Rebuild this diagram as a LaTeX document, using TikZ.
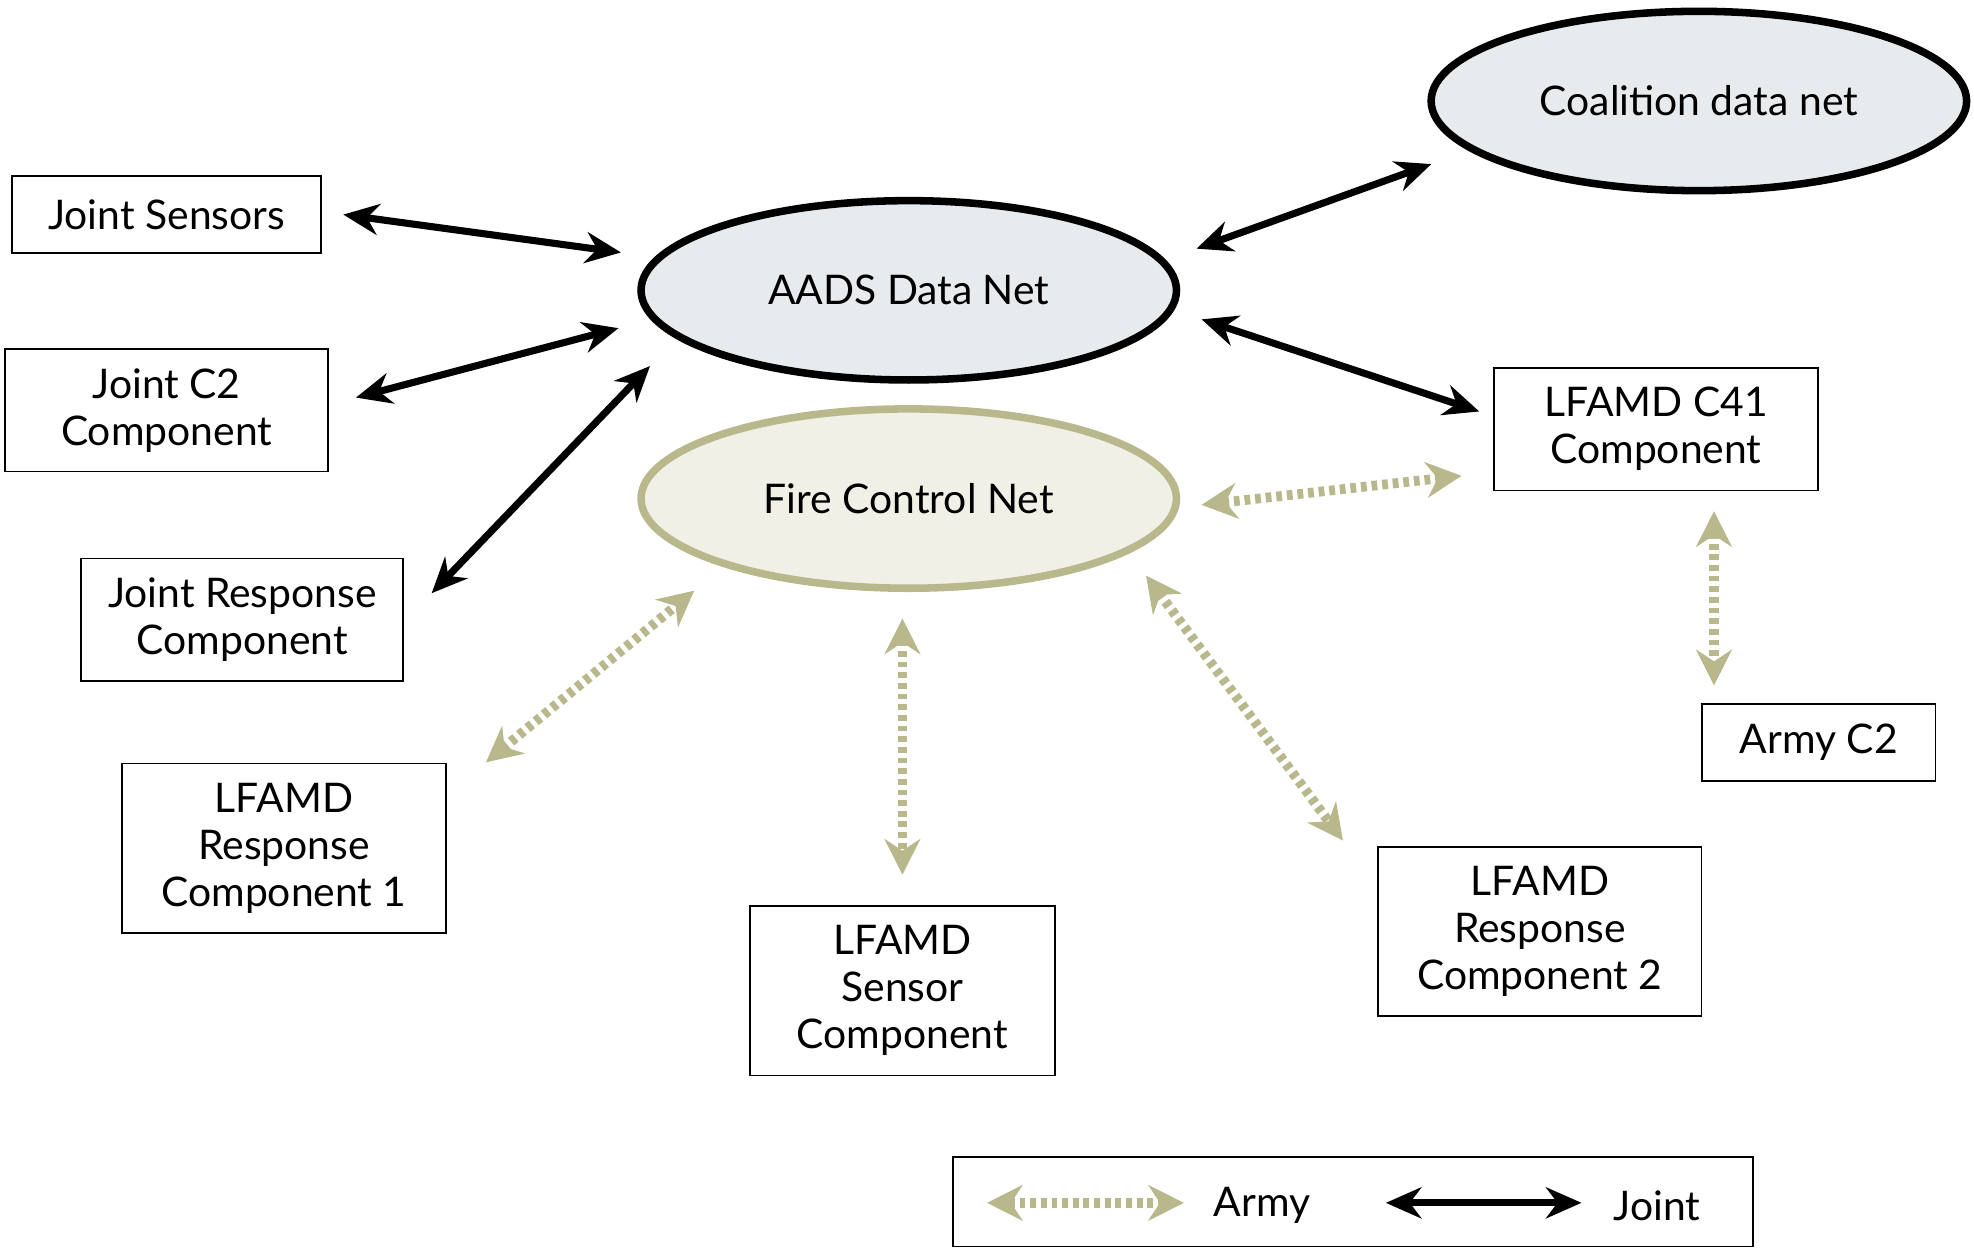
\documentclass[tikz,border=0pt]{standalone}
\usepackage{fontspec}
\setmainfont{Lato}
\usetikzlibrary{arrows.meta,shapes.geometric}
\definecolor{olv}{RGB}{184,184,140}
\definecolor{olvfill}{RGB}{240,240,230}
\definecolor{netfill}{RGB}{232,235,238}
\begin{document}
\begin{tikzpicture}[x=0.01cm,y=-0.01cm,
  box/.style={draw,line width=0.4pt,align=center,font=\fontsize{9.2}{10.6}\selectfont,inner sep=0pt},
  net/.style={ellipse,draw,line width=1.7pt,fill=netfill,font=\fontsize{9.2}{10.6}\selectfont},
  joint/.style={line width=1.6pt,{Stealth[length=8pt,width=7pt]}-{Stealth[length=8pt,width=7pt]}},
  army/.style={olv,line width=2.2pt,dash pattern=on 1.3pt off 1.1pt,{Stealth[length=8pt,width=8pt,fill=olv]}-{Stealth[length=8pt,width=8pt,fill=olv]}}]
\useasboundingbox (0,0) rectangle (1564,990);
\tikzset{netsz/.style={minimum width=4.24cm,minimum height=1.42cm}}
\node[net,netsz] (coal) at (1346,80) {Coalition data net};
\node[net,netsz] (aads) at (720,230) {AADS Data Net};
\node[net,netsz,draw=olv,fill=olvfill] (fc) at (720,395) {Fire Control Net};
\node[box,minimum width=2.45cm,minimum height=0.61cm] (js) at (132,170) {Joint Sensors};
\node[box,minimum width=2.56cm,minimum height=0.97cm] (jc2) at (132,325) {Joint C2\\Component};
\node[box,minimum width=2.55cm,minimum height=0.97cm] (jr) at (192,491) {Joint Response\\Component};
\node[box,minimum width=2.57cm,minimum height=1.34cm] (r1) at (225,672) {LFAMD\\Response\\Component 1};
\node[box,minimum width=2.42cm,minimum height=1.34cm] (sen) at (715,785) {LFAMD\\Sensor\\Component};
\node[box,minimum width=2.56cm,minimum height=1.34cm] (r2) at (1220,738) {LFAMD\\Response\\Component 2};
\node[box,minimum width=1.85cm,minimum height=0.61cm] (ac2) at (1441,588) {Army C2};
\node[box,minimum width=2.57cm,minimum height=0.97cm] (c41) at (1312,340) {LFAMD C41\\Component};
\node[box,minimum width=6.33cm,minimum height=0.71cm] (leg) at (1072,952) {};
\coordinate (a1) at (272,170); \coordinate (b1) at (492,200);
\coordinate (a2) at (282,315); \coordinate (b2) at (490,260);
\coordinate (a3) at (342,470); \coordinate (b3) at (515,290);
\coordinate (a4) at (948,197); \coordinate (b4) at (1134,130);
\coordinate (a5) at (952,253); \coordinate (b5) at (1172,326);
\coordinate (a6) at (952,400); \coordinate (b6) at (1158,377);
\coordinate (a7) at (1358,405); \coordinate (b7) at (1358,543);
\coordinate (a8) at (385,604); \coordinate (b8) at (550,468);
\coordinate (a9) at (715,490); \coordinate (b9) at (715,693);
\coordinate (a10) at (908,456); \coordinate (b10) at (1064,666);
\coordinate (la1) at (782,953); \coordinate (lb1) at (938,953);
\coordinate (la2) at (1098,953); \coordinate (lb2) at (1253,953);
\draw[joint] (a1)--(b1);
\draw[joint] (a2)--(b2);
\draw[joint] (a3)--(b3);
\draw[joint] (a4)--(b4);
\draw[joint] (a5)--(b5);
\draw[army] (a6)--(b6);
\draw[army] (a7)--(b7);
\draw[army] (a8)--(b8);
\draw[army] (a9)--(b9);
\draw[army] (a10)--(b10);
\draw[army] (la1)--(lb1);
\draw[joint] (la2)--(lb2);
\node[font=\fontsize{9.2}{10.6}\selectfont] (lt1) at (1000,955) {Army};
\node[font=\fontsize{9.2}{10.6}\selectfont] (lt2) at (1313,955) {Joint};
\end{tikzpicture}
\end{document}
